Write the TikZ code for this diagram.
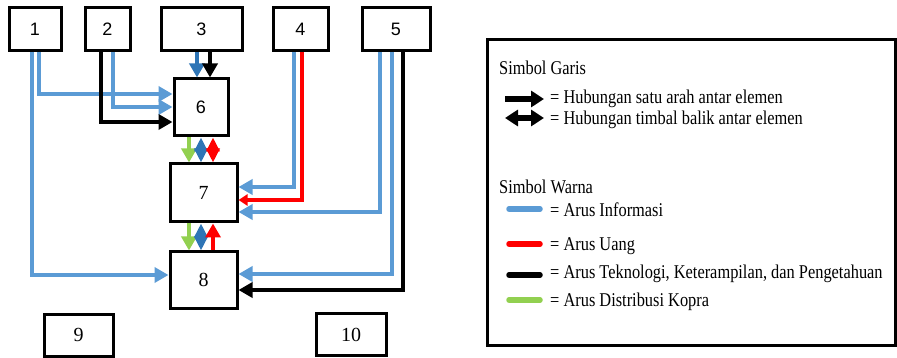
\documentclass[tikz,border=0pt]{standalone}
\usepackage{fontspec}
\usepackage{graphicx}
\setmainfont{Liberation Serif}
\newfontfamily\arialf{Liberation Sans}
\usetikzlibrary{arrows.meta,calc}
\definecolor{infob}{HTML}{5B9BD5}
\definecolor{infod}{HTML}{2E75B6}
\definecolor{uang}{HTML}{FF0000}
\definecolor{kopra}{HTML}{92D050}
\newcommand\sqz[1]{\scalebox{0.84}[1]{#1}}
\begin{document}
\begin{tikzpicture}[x=1pt,y=-1pt,
  box/.style={draw, line width=3pt, inner sep=0pt, minimum height=43pt},
  sbox/.style={box, font=\arialf\fontsize{18}{18}\selectfont},
  tbox/.style={box, font=\fontsize{20}{20}\selectfont},
  flow/.style={line width=3.5pt, -{Triangle[length=14pt,width=15pt]}},
  dflow/.style={line width=3.5pt, {Triangle[length=14pt,width=13pt]}-{Triangle[length=14pt,width=13pt]}},
  info/.style={flow, draw=infob},
  teks/.style={flow, draw=black},
  lg/.style={anchor=base west, inner sep=0pt, font=\fontsize{19.5}{20}\selectfont},
  lgline/.style={line width=5.5pt, line cap=round}
]
\useasboundingbox (0,0) rectangle (897,358);

% top boxes
\node[sbox, minimum width=52pt] (b1) at (35,29.5) {1};
\node[sbox, minimum width=45pt] (b2) at (107.5,29.5) {2};
\node[sbox, minimum width=81pt] (b3) at (201.5,29.5) {3};
\node[sbox, minimum width=55pt] (b4) at (300.5,29.5) {4};
\node[sbox, minimum width=68pt] (b5) at (396,29.5) {5};
% middle boxes
\node[sbox, minimum width=54pt, minimum height=57pt] (b6) at (201,107.5) {6};
\node[tbox, minimum width=67pt, minimum height=58pt] (b7) at (203.5,193) {7};
\node[tbox, minimum width=67pt, minimum height=56pt] (b8) at (203.5,280) {8};
% bottom boxes
\node[tbox, minimum width=69pt, minimum height=42pt] (b9) at (78.5,335) {9};
\node[tbox, minimum width=70pt, minimum height=42pt] (b10) at (351,334.5) {10};

% from 1
\draw[info] ($(b1.south)+(4,0)$) |- ($(b6.west)+(0,-13.5)$);
\draw[info] ($(b1.south)+(-3,0)$) |- ($(b8.west)+(0,-5)$);
% from 2
\draw[info] ($(b2.south)+(5.5,0)$) |- ($(b6.west)+(0,-0.5)$);
\draw[teks] ($(b2.south)+(-6.5,0)$) |- ($(b6.west)+(0,14.5)$);
% from 3
\draw[flow, draw=infod] ($(b3.south)+(-4.5,0)$) -- ($(b6.north)+(-4,0)$);
\draw[teks] ($(b3.south)+(8.5,0)$) -- ($(b6.north)+(9,0)$);
% from 4
\draw[info] ($(b4.south)+(-6.5,0)$) |- ($(b7.east)+(0,-6)$);
\draw[line width=3.5pt, draw=uang, -{Triangle[length=9pt,width=11pt]}] ($(b4.south)+(1.5,0)$) |- ($(b7.east)+(0,7)$);
% from 5
\draw[info] ($(b5.south)+(-16,0)$) |- ($(b7.east)+(0,19)$);
\draw[info] ($(b5.south)+(-4,0)$) |- ($(b8.east)+(0,-6)$);
\draw[teks] ($(b5.south)+(7,0)$) |- ($(b8.east)+(0,10)$);
% 6 - 7
\draw[flow, draw=kopra] ($(b6.south)+(-12,0)$) -- ($(b7.north)+(-14.5,0)$);
\draw[dflow, draw=infod] ($(b6.south)+(0,0)$) -- ($(b7.north)+(-2.5,0)$);
\draw[dflow, draw=uang] ($(b6.south)+(12,0)$) -- ($(b7.north)+(9.5,0)$);
% 7 - 8
\draw[flow, draw=kopra] ($(b7.south)+(-14.5,0)$) -- ($(b8.north)+(-14.5,0)$);
\draw[dflow, draw=infod] ($(b7.south)+(-2.5,0)$) -- ($(b8.north)+(-2.5,0)$);
\draw[flow, draw=uang] ($(b8.north)+(9.5,0)$) -- ($(b7.south)+(9.5,0)$);

% legend
\node[draw, line width=3pt, minimum width=408pt, minimum height=305pt, inner sep=0pt] (lgd) at (691,192.5) {};
\node[lg] (hg) at (499,75) {\sqz{Simbol Garis}};
\coordinate (a1s) at (505,99);
\coordinate (a1e) at (544,99);
\coordinate (a2s) at (505,118);
\coordinate (a2e) at (544,118);
\draw[line width=6pt, -{Triangle[length=13pt,width=16pt]}] (a1s) -- (a1e);
\draw[line width=6pt, {Triangle[length=13pt,width=16pt]}-{Triangle[length=13pt,width=16pt]}] (a2s) -- (a2e);
\node[lg] (t1) at (550,104) {\sqz{= Hubungan satu arah antar elemen}};
\node[lg] (t2) at (550,125) {\sqz{= Hubungan timbal balik antar elemen}};

\node[lg] (hw) at (499,194) {\sqz{Simbol Warna}};
\coordinate (l1s) at (509,209); \coordinate (l1e) at (540,209);
\coordinate (l2s) at (509,244); \coordinate (l2e) at (540,244);
\coordinate (l3s) at (509,275); \coordinate (l3e) at (540,275);
\coordinate (l4s) at (509,300); \coordinate (l4e) at (540,300);
\draw[lgline, draw=infob] (l1s) -- (l1e);
\draw[lgline, draw=uang] (l2s) -- (l2e);
\draw[lgline, draw=black] (l3s) -- (l3e);
\draw[lgline, draw=kopra] (l4s) -- (l4e);
\node[lg] (w1) at (550,217) {\sqz{= Arus Informasi}};
\node[lg] (w2) at (550,251) {\sqz{= Arus Uang}};
\node[lg] (w3) at (550,278) {\sqz{= Arus Teknologi, Keterampilan, dan Pengetahuan}};
\node[lg] (w4) at (550,306) {\sqz{= Arus Distribusi Kopra}};
\end{tikzpicture}
\end{document}
